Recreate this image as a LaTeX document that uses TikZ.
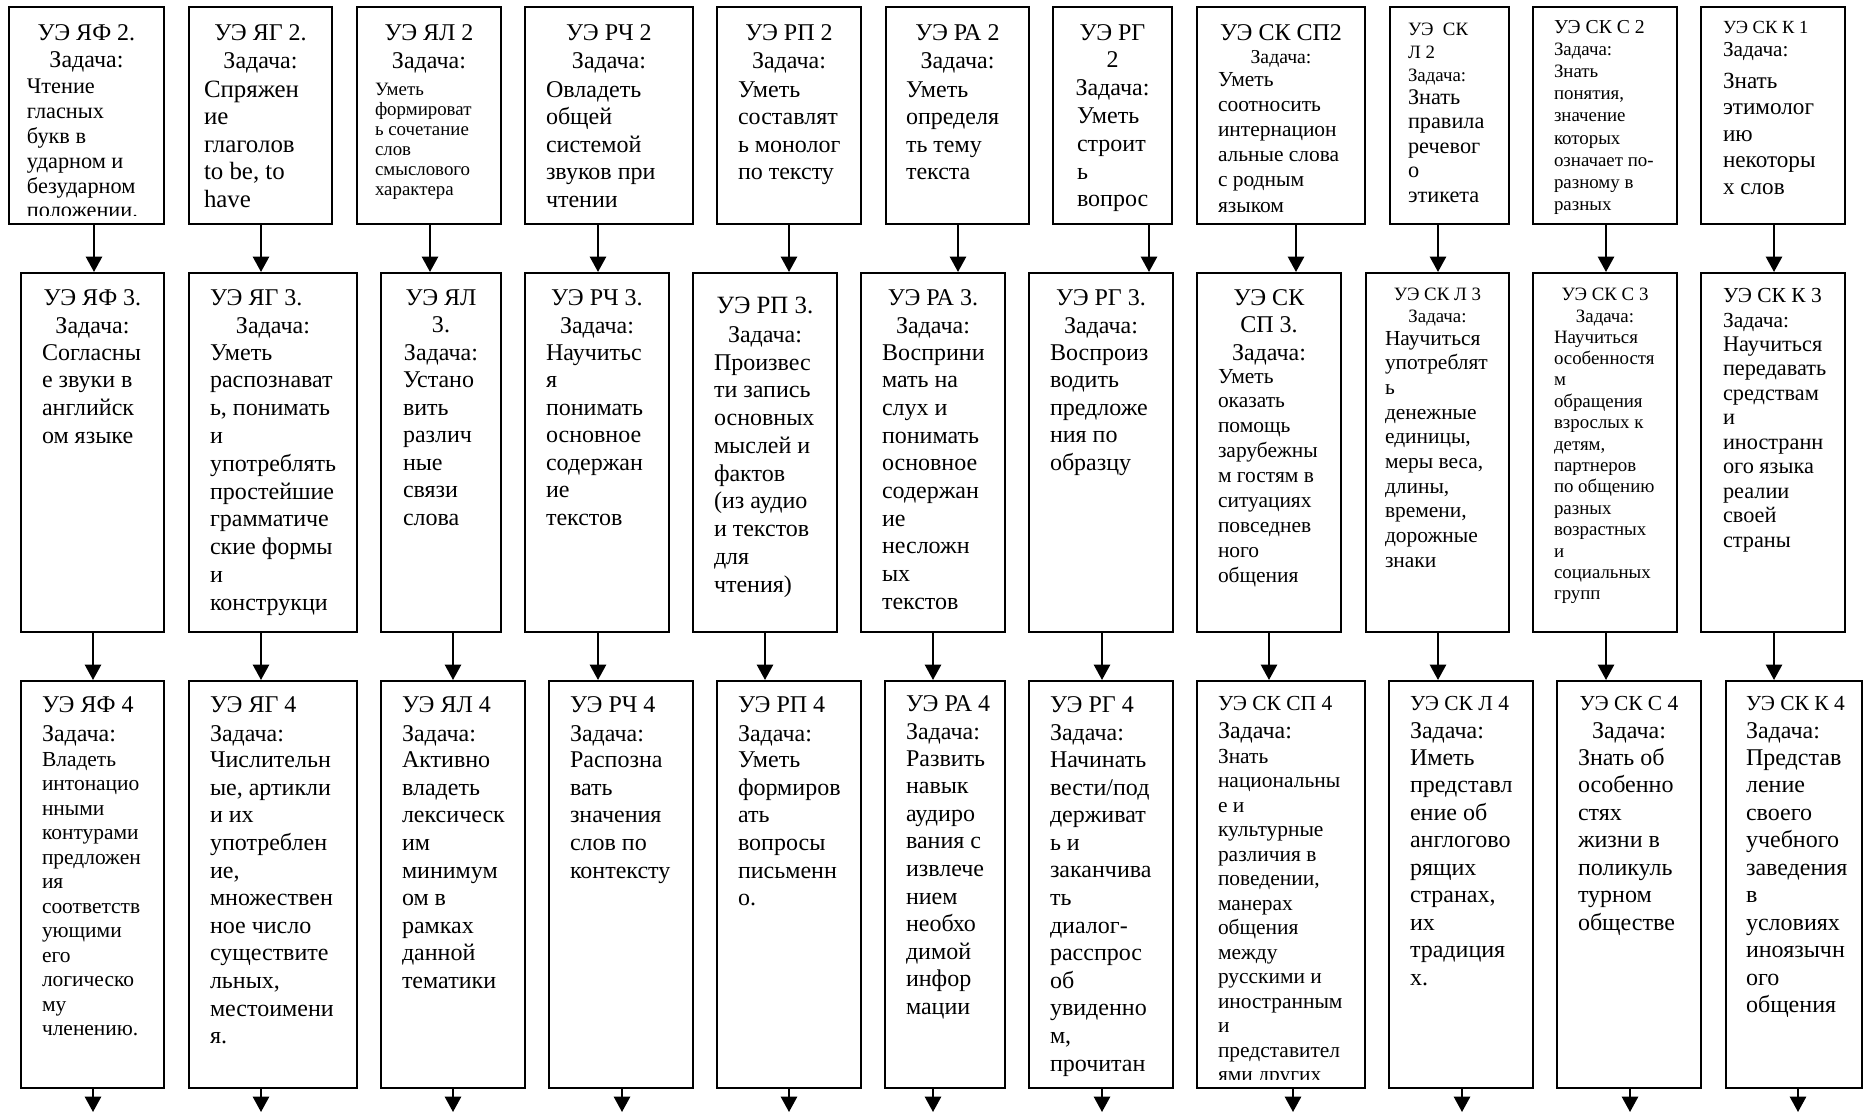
\documentclass[tikz,border=0pt]{standalone}
\usepackage{fontspec}
\setmainfont{Liberation Serif}
\usetikzlibrary{arrows.meta,fit}
\newdimen\px \px=0.583pt
\newdimen\myind
\newcommand\fz[2]{\fontsize{#1}{#1}\selectfont\baselineskip=#2\px\relax}
\newcommand\gp[1]{\vskip #1\px\relax}
\newcommand\myC[1]{\hbox to\hsize{\hss #1\hss}}
\newcommand\myL[1]{\hbox to\hsize{\hskip\myind #1\hss}}
\tikzset{
  boxst/.style={draw, line width=1.2pt, inner sep=0pt},
  txtst/.style={inner sep=0pt, outer sep=0pt},
  arrst/.style={line width=1.2pt, -{Triangle[length=9pt, width=9.5pt]}}
}
% name, x1, y1, x2, y2, body indent, first baseline, content
\newcommand\ubox[8]{%
  \node[boxst, fit={(#2,#3) (#4,#5)}] (#1) {};
  \begin{scope}
    \clip (#2+2,#3+2) rectangle (#4-2,#5-9);
    \pgfmathsetmacro\tw{(#4-#2-16)*0.583}
    \pgfmathsetmacro\ind{(#6-8)*0.583}
    \node[txtst, anchor=base west] (#1t) at (#2+8,#7)
      {\vtop{\hsize=\tw pt\myind=\ind pt\lineskiplimit=-100pt\relax #8}};
  \end{scope}}
\newcommand\conn[3]{\coordinate (lx) at (#3,0);
  \draw[arrst] (#1.south -| lx) -- (#2.north -| lx);}
\begin{document}
\begin{tikzpicture}[x=0.583pt, y=-0.583pt]
\useasboundingbox (0,0) rectangle (1865,1112);
\fill[white] (0,0) rectangle (1865,1112);

% ---------- top row ----------
\ubox{t1}{9}{7}{164}{224}{18}{40}{\fz{14}{27}\myC{УЭ ЯФ 2.}\myC{Задача:}
  \fz{13}{24.8}\gp{2}\myL{Чтение}\myL{гласных}\myL{букв в}\myL{ударном и}\myL{безударном}\myL{положении.}}
\ubox{t2}{189}{7}{332}{224}{15}{40}{\fz{14}{28}\myC{УЭ ЯГ 2.}\myC{Задача:}
  \fz{14.5}{27.6}\gp{1.4}\myL{Спряжен}\myL{ие}\myL{глаголов}\myL{to be, to}\myL{have}}
\ubox{t3}{357}{7}{501}{224}{18}{40}{\fz{14}{28}\myC{УЭ ЯЛ 2}\myC{Задача:}
  \fz{11}{20}\gp{7}\myL{Уметь}\myL{формироват}\myL{ь сочетание}\myL{слов}\myL{смыслового}\myL{характера}}
\ubox{t4}{525}{7}{693}{224}{21}{40}{\fz{14}{28}\myC{УЭ РЧ 2}\myC{Задача:}
  \fz{14}{27.6}\gp{1.4}\myL{Овладеть}\myL{общей}\myL{системой}\myL{звуков при}\myL{чтении}}
\ubox{t5}{717}{7}{861}{224}{21}{40}{\fz{14}{28}\myC{УЭ РП 2}\myC{Задача:}
  \fz{14}{27.6}\gp{1.4}\myL{Уметь}\myL{составлят}\myL{ь монолог}\myL{по тексту}}
\ubox{t6}{886}{7}{1029}{224}{20}{40}{\fz{14}{28}\myC{УЭ РА 2}\myC{Задача:}
  \fz{14}{27.6}\gp{1.4}\myL{Уметь}\myL{определя}\myL{ть тему}\myL{текста}}
\ubox{t7}{1053}{7}{1172}{224}{24}{40}{\fz{14}{27.8}\myC{УЭ РГ}\myC{2}\myC{Задача:}
  \myL{Уметь}\myL{строит}\myL{ь}\myL{вопрос}}
\ubox{t8}{1197}{7}{1365}{224}{21}{40}{\fz{14}{28}\myC{УЭ СК СП2}\fz{11.5}{23}\myC{Задача:}
  \fz{12.5}{25.2}\gp{-2.2}\myL{Уметь}\myL{соотносить}\myL{интернацион}\myL{альные слова}\myL{с родным}\myL{языком}}
\ubox{t9}{1390}{7}{1509}{224}{18}{35}{\fz{11}{23}\myL{УЭ\enspace СК}\myL{Л 2}\myL{Задача:}
  \fz{13}{24.6}\gp{-1.6}\myL{Знать}\myL{правила}\myL{речевог}\myL{о}\myL{этикета}}
\ubox{t10}{1533}{7}{1677}{224}{21}{33}{\fz{11.5}{22.2}\myL{УЭ СК С 2}\fz{11}{22.2}\myL{Задача:}
  \myL{Знать}\myL{понятия,}\myL{значение}\myL{которых}\myL{означает по-}\myL{разному в}\myL{разных}}
\ubox{t11}{1701}{7}{1845}{224}{22}{33}{\fz{10.8}{23}\myL{УЭ СК К 1}\fz{12.4}{23}\myL{Задача:}
  \fz{13.5}{26.5}\gp{5.5}\myL{Знать}\myL{этимолог}\myL{ию}\myL{некоторы}\myL{х слов}}

% ---------- middle row ----------
\ubox{m1}{21}{273}{164}{632}{21}{305}{\fz{14}{28}\myC{УЭ ЯФ 3.}\myC{Задача:}
  \fz{14}{27.7}\gp{-0.7}\myL{Согласны}\myL{е звуки в}\myL{английск}\myL{ом языке}}
\ubox{m2}{189}{273}{357}{632}{21}{305}{\fz{14}{28}\myL{УЭ ЯГ 3.}\myC{Задача:}
  \fz{14}{27.8}\gp{-0.8}\myL{Уметь}\myL{распознават}\myL{ь, понимать}\myL{и}\myL{употреблять}\myL{простейшие}\myL{грамматиче}\myL{ские формы}\myL{и}\myL{конструкци}}
\ubox{m3}{381}{273}{501}{632}{22}{305}{\fz{14}{27.5}\myC{УЭ ЯЛ}\myC{3.}\myC{Задача:}
  \myL{Устано}\myL{вить}\myL{различ}\myL{ные}\myL{связи}\myL{слова}}
\ubox{m4}{525}{273}{669}{632}{21}{305}{\fz{14}{28}\myC{УЭ РЧ 3.}\myC{Задача:}
  \fz{14}{27.5}\gp{-0.5}\myL{Научитьс}\myL{я}\myL{понимать}\myL{основное}\myL{содержан}\myL{ие}\myL{текстов}}
\ubox{m5}{693}{273}{837}{632}{21}{313}{\fz{14.5}{29}\myC{УЭ РП 3.}\fz{14}{29}\myC{Задача:}
  \fz{14}{27.75}\gp{0.25}\myL{Произвес}\myL{ти запись}\myL{основных}\myL{мыслей и}\myL{фактов}\myL{(из аудио}\myL{и текстов}\myL{для}\myL{чтения)}}
\ubox{m6}{861}{273}{1005}{632}{21}{305}{\fz{14}{28}\myC{УЭ РА 3.}\myC{Задача:}
  \fz{14}{27.7}\gp{-0.7}\myL{Восприни}\myL{мать на}\myL{слух и}\myL{понимать}\myL{основное}\myL{содержан}\myL{ие}\myL{несложн}\myL{ых}\myL{текстов}}
\ubox{m7}{1029}{273}{1173}{632}{21}{305}{\fz{14}{28}\myC{УЭ РГ 3.}\myC{Задача:}
  \fz{14}{27.5}\gp{-0.5}\myL{Воспроиз}\myL{водить}\myL{предложе}\myL{ния по}\myL{образцу}}
\ubox{m8}{1197}{273}{1341}{632}{21}{305}{\fz{14}{27.5}\myC{УЭ СК}\myC{СП 3.}\myC{Задача:}
  \fz{12.5}{24.9}\gp{-1.9}\myL{Уметь}\myL{оказать}\myL{помощь}\myL{зарубежны}\myL{м гостям в}\myL{ситуациях}\myL{повседнев}\myL{ного}\myL{общения}}
\ubox{m9}{1366}{273}{1509}{632}{19}{300}{\fz{11}{22}\myC{УЭ СК Л 3}\myC{Задача:}
  \fz{12.5}{24.7}\gp{-1.7}\myL{Научиться}\myL{употреблят}\myL{ь}\myL{денежные}\myL{единицы,}\myL{меры веса,}\myL{длины,}\myL{времени,}\myL{дорожные}\myL{знаки}}
\ubox{m10}{1533}{273}{1677}{632}{21}{300}{\fz{11}{22}\myC{УЭ СК С 3}\myC{Задача:}
  \fz{11}{21.4}\gp{-0.4}\myL{Научиться}\myL{особенностя}\myL{м}\myL{обращения}\myL{взрослых к}\myL{детям,}\myL{партнеров}\myL{по общению}\myL{разных}\myL{возрастных}\myL{и}\myL{социальных}\myL{групп}}
\ubox{m11}{1701}{273}{1845}{632}{22}{302}{\fz{12.5}{25}\myL{УЭ СК К 3}\myL{Задача:}
  \fz{13}{24.5}\gp{-0.5}\myL{Научиться}\myL{передавать}\myL{средствам}\myL{и}\myL{иностранн}\myL{ого языка}\myL{реалии}\myL{своей}\myL{страны}}

% ---------- bottom row ----------
\ubox{b1}{21}{681}{164}{1088}{21}{712}{\fz{14}{29}\myL{УЭ ЯФ 4}\myL{Задача:}
  \fz{12.5}{24.5}\gp{0.5}\myL{Владеть}\myL{интонацио}\myL{нными}\myL{контурами}\myL{предложен}\myL{ия}\myL{соответств}\myL{ующими}\myL{его}\myL{логическо}\myL{му}\myL{членению.}}
\ubox{b2}{189}{681}{357}{1088}{21}{712}{\fz{14}{29}\myL{УЭ ЯГ 4}\myL{Задача:}
  \fz{14}{27.6}\gp{-1}\myL{Числительн}\myL{ые, артикли}\myL{и их}\myL{употреблен}\myL{ие,}\myL{множествен}\myL{ное число}\myL{существите}\myL{льных,}\myL{местоимени}\myL{я.}}
\ubox{b3}{381}{681}{525}{1088}{21}{712}{\fz{14}{29}\myL{УЭ ЯЛ 4}\myL{Задача:}
  \fz{14}{27.6}\gp{-1}\myL{Активно}\myL{владеть}\myL{лексическ}\myL{им}\myL{минимум}\myL{ом в}\myL{рамках}\myL{данной}\myL{тематики}}
\ubox{b4}{549}{681}{693}{1088}{21}{712}{\fz{14}{29}\myL{УЭ РЧ 4}\myL{Задача:}
  \fz{14}{27.6}\gp{-1}\myL{Распозна}\myL{вать}\myL{значения}\myL{слов по}\myL{контексту}}
\ubox{b5}{717}{681}{861}{1088}{21}{712}{\fz{14}{29}\myL{УЭ РП 4}\myL{Задача:}
  \fz{14}{27.6}\gp{-1}\myL{Уметь}\myL{формиров}\myL{ать}\myL{вопросы}\myL{письменн}\myL{о.}}
\ubox{b6}{885}{681}{1005}{1088}{21}{711}{\fz{14}{28}\myL{УЭ РА 4}\myL{Задача:}
  \fz{14}{27.6}\gp{-0.6}\myL{Развить}\myL{навык}\myL{аудиро}\myL{вания с}\myL{извлече}\myL{нием}\myL{необхо}\myL{димой}\myL{инфор}\myL{мации}}
\ubox{b7}{1029}{681}{1173}{1088}{21}{712}{\fz{14}{28.5}\myL{УЭ РГ 4}\myL{Задача:}
  \fz{14}{27.6}\gp{-0.6}\myL{Начинать}\myL{вести/под}\myL{держиват}\myL{ь и}\myL{заканчива}\myL{ть}\myL{диалог-}\myL{расспрос}\myL{об}\myL{увиденно}\myL{м,}\myL{прочитан}}
\ubox{b8}{1197}{681}{1365}{1088}{21}{710}{\fz{12.5}{28}\myL{УЭ СК СП 4}\fz{14}{28}\myL{Задача:}
  \fz{12.5}{24.5}\gp{0.5}\myL{Знать}\myL{национальны}\myL{е и}\myL{культурные}\myL{различия в}\myL{поведении,}\myL{манерах}\myL{общения}\myL{между}\myL{русскими и}\myL{иностранным}\myL{и}\myL{представител}\myL{ями других}}
\ubox{b9}{1389}{681}{1533}{1088}{21}{710}{\fz{12.5}{28}\myL{УЭ СК Л 4}\fz{14}{28}\myL{Задача:}
  \fz{14}{27.5}\gp{-0.5}\myL{Иметь}\myL{представл}\myL{ение об}\myL{англогово}\myL{рящих}\myL{странах,}\myL{их}\myL{традиция}\myL{х.}}
\ubox{b10}{1557}{681}{1701}{1088}{21}{710}{\fz{12.5}{28}\myC{УЭ СК С 4}\fz{14}{28}\myC{Задача:}
  \fz{14}{27.5}\gp{-0.5}\myL{Знать об}\myL{особенно}\myL{стях}\myL{жизни в}\myL{поликуль}\myL{турном}\myL{обществе}}
\ubox{b11}{1726}{681}{1862}{1088}{20}{710}{\fz{12.5}{28}\myL{УЭ СК К 4}\fz{14}{28}\myL{Задача:}
  \fz{14}{27.5}\gp{-0.5}\myL{Представ}\myL{ление}\myL{своего}\myL{учебного}\myL{заведения}\myL{в}\myL{условиях}\myL{иноязычн}\myL{ого}\myL{общения}}

% ---------- connectors ----------
\conn{t1}{m1}{94}   \conn{t2}{m2}{261}  \conn{t3}{m3}{430}
\conn{t4}{m4}{598}  \conn{t5}{m5}{789}  \conn{t6}{m6}{958}
\conn{t7}{m7}{1149} \conn{t8}{m8}{1296} \conn{t9}{m9}{1438}
\conn{t10}{m10}{1606} \conn{t11}{m11}{1774}

\conn{m1}{b1}{93}   \conn{m2}{b2}{261}  \conn{m3}{b3}{453}
\conn{m4}{b4}{598}  \conn{m5}{b5}{765}  \conn{m6}{b6}{933}
\conn{m7}{b7}{1102} \conn{m8}{b8}{1269} \conn{m9}{b9}{1438}
\conn{m10}{b10}{1606} \conn{m11}{b11}{1774}

\coordinate (e1) at (93,1112);   \coordinate (e2) at (261,1112);
\coordinate (e3) at (453,1112);  \coordinate (e4) at (622,1112);
\coordinate (e5) at (789,1112);  \coordinate (e6) at (933,1112);
\coordinate (e7) at (1102,1112); \coordinate (e8) at (1293,1112);
\coordinate (e9) at (1462,1112); \coordinate (e10) at (1630,1112);
\coordinate (e11) at (1798,1112);
\foreach \i in {1,...,11} {\draw[arrst] (b\i.south -| e\i) -- (e\i);}
\end{tikzpicture}
\end{document}
